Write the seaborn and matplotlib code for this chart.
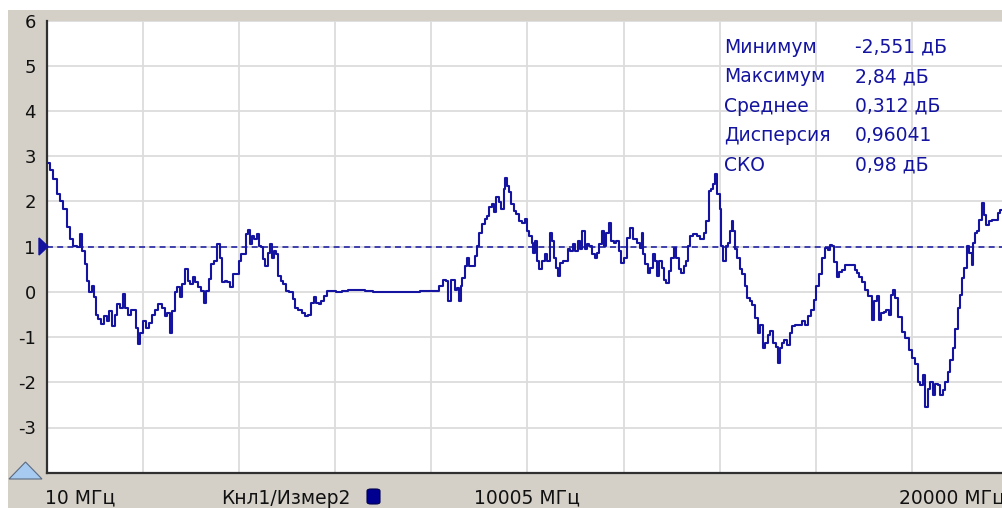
import matplotlib
matplotlib.use('Agg')
import matplotlib.pyplot as plt
import seaborn as sns
import pandas as pd
import numpy as np
from matplotlib.patches import Rectangle, Polygon, FancyBboxPatch

freq_mhz = [
    40, 110, 180, 245, 320, 385, 455, 525, 595, 665, 715, 765, 825, 870, 920, 965,
    1010, 1045, 1115, 1160, 1220, 1285, 1335, 1390, 1445, 1495, 1550, 1615, 1670,
    1725, 1775, 1840, 1890, 1930, 1980, 2050, 2100, 2155, 2225, 2295, 2360, 2430,
    2485, 2535, 2590, 2640, 2695, 2745, 2795, 2845, 2905, 2965, 3020, 3070, 3125,
    3180, 3240, 3300, 3355, 3400, 3460, 3520, 3575, 3630, 3680, 3735, 3795, 3855,
    3900, 3970, 4025,
    4060, 4130, 4185, 4215, 4255, 4305, 4350, 4395, 4440, 4490, 4530, 4580, 4630,
    4670, 4705, 4755, 4800, 4845, 4895, 4960, 5010, 5100, 5155, 5205, 5275, 5340,
    5415, 5480, 5530, 5585, 5640, 5690, 5735, 5795, 5860, 5965, 6070, 6210, 6350,
    6555, 6695, 6900, 7250, 7595, 7940,
    8115, 8220, 8290, 8335, 8380, 8430, 8475, 8520, 8565, 8600, 8635, 8670, 8725,
    8755, 8810, 8880, 8930, 8980, 9030, 9085, 9140, 9190, 9240, 9295, 9330, 9375,
    9435, 9490, 9535, 9560, 9605, 9640, 9695, 9745, 9795, 9850, 9920, 9970, 10020,
    10070, 10115, 10145, 10180, 10230, 10280, 10335, 10390, 10440, 10490, 10530,
    10575, 10625, 10665, 10715, 10765, 10820, 10875, 10925, 10970, 11030, 11075,
    11110, 11165, 11220, 11270, 11320, 11375, 11425, 11475, 11525, 11570, 11615,
    11665, 11720, 11775, 11825, 11875, 11930, 11985, 12035,
    12100, 12170, 12240, 12310, 12365, 12395, 12435, 12485, 12530, 12590, 12640,
    12690, 12725, 12775, 12815, 12865, 12915, 12970, 13015, 13075, 13120, 13175,
    13225, 13280, 13330, 13370, 13420, 13490, 13555, 13640, 13695, 13755, 13800,
    13850, 13890, 13940, 13975, 14025, 14055, 14100, 14150, 14195, 14235, 14265,
    14305, 14340, 14390, 14445, 14495, 14545, 14595, 14655, 14715, 14770, 14820,
    14875, 14930, 14980, 15030, 15085, 15140, 15190, 15235, 15275, 15325, 15375,
    15430, 15485, 15535, 15605, 15670, 15740, 15810, 15865, 15930, 15985, 16040,
    16090,
    16170, 16225, 16280, 16330, 16365, 16415, 16470, 16520, 16575, 16645, 16710,
    16780, 16835, 16885, 16935, 16990, 17060, 17130, 17195, 17245, 17290, 17335,
    17385, 17440, 17490, 17545, 17580, 17625, 17685, 17750, 17820, 17905, 17960,
    18030, 18100, 18155, 18205, 18250, 18305, 18355, 18410, 18460, 18515, 18570,
    18620, 18665, 18725, 18775, 18825, 18875, 18930, 18985, 19035, 19070, 19120,
    19170, 19220, 19265, 19290, 19335, 19380, 19430, 19470, 19520, 19565, 19625,
    19690, 19765, 19810, 19865,
]
level_db = [
    2.85, 2.69, 2.5, 2.17, 2.02, 1.84, 1.43, 1.17, 1.02, 0.99, 1.28, 0.91, 0.61,
    0.24, -0.01, 0.13, -0.12, -0.5, -0.61, -0.72, -0.53, -0.64, -0.42, -0.76, -0.5,
    -0.27, -0.35, -0.05, -0.35, -0.5, -0.39, -0.39, -0.79, -1.15, -0.9, -0.64,
    -0.79, -0.68, -0.5, -0.39, -0.27, -0.35, -0.53, -0.46, -0.9, -0.42, -0.01, 0.1,
    -0.12, 0.17, 0.5, 0.24, 0.17, 0.32, 0.21, 0.1, 0.02, -0.24, 0.02, 0.28, 0.61,
    0.69, 1.06, 0.76, 0.21, 0.24, 0.21, 0.1, 0.39, 0.39, 0.69,
    0.84, 0.84, 1.28, 1.36, 1.06, 1.24, 1.17, 1.28, 1.02, 0.99, 0.73, 0.58, 0.87,
    1.06, 0.76, 0.91, 0.84, 0.36, 0.24, 0.17, 0.02, -0.01, -0.16, -0.35, -0.39,
    -0.46, -0.53, -0.5, -0.24, -0.11, -0.24, -0.27, -0.2, -0.09, 0.02, 0.02, 0.0,
    0.02, 0.04, 0.04, 0.02, -0.01, -0.01, -0.01, 0.01,
    0.01, 0.13, 0.27, 0.24, -0.21, 0.27, 0.27, 0.05, 0.09, -0.21, 0.13, 0.31, 0.57,
    0.76, 0.57, 0.57, 0.79, 1.01, 1.31, 1.5, 1.61, 1.68, 1.87, 1.94, 1.76, 2.09,
    1.98, 1.83, 2.27, 2.53, 2.35, 2.2, 1.94, 1.79, 1.72, 1.57, 1.53, 1.61, 1.35,
    1.24, 1.09, 0.87, 1.13, 0.68, 0.5, 0.68, 0.83, 0.68, 1.31, 1.13, 0.76, 0.53,
    0.35, 0.64, 0.68, 0.68, 0.94, 0.9, 1.05, 0.9, 1.13, 0.94, 1.35, 0.94, 1.05,
    1.01, 0.83, 0.76, 0.87, 1.05, 1.35, 1.01, 1.31, 1.53, 1.13, 1.09, 1.13, 0.9,
    0.64, 0.76,
    1.2, 1.42, 1.16, 1.09, 0.98, 1.31, 0.83, 0.61, 0.42, 0.53, 0.83, 0.68, 0.35,
    0.68, 0.53, 0.27, 0.2, 0.46, 0.76, 0.98, 0.76, 0.5, 0.42, 0.57, 0.68, 1.01,
    1.24, 1.27, 1.24, 1.16, 1.31, 1.57, 2.24, 2.27, 2.39, 2.61, 2.16, 1.83, 1.01,
    0.68, 1.01, 1.09, 1.35, 1.57, 1.35, 0.94, 0.76, 0.5, 0.39, 0.13, -0.13, -0.21,
    -0.28, -0.58, -0.91, -0.73, -1.24, -1.13, -0.95, -0.87, -1.13, -1.21, -1.58,
    -1.24, -1.13, -1.06, -1.17, -0.91, -0.76, -0.73, -0.73, -0.65, -0.73, -0.54,
    -0.39, -0.17, 0.13, 0.39,
    0.75, 0.97, 0.93, 1.04, 1.01, 0.67, 0.34, 0.45, 0.49, 0.6, 0.6, 0.6, 0.49,
    0.41, 0.34, 0.23, 0.04, -0.1, -0.62, -0.21, -0.1, -0.62, -0.47, -0.44, -0.4,
    -0.51, -0.07, 0.04, -0.14, -0.55, -0.88, -1.03, -1.29, -1.47, -1.59, -1.99,
    -2.07, -1.84, -2.55, -2.14, -1.99, -2.29, -2.03, -2.07, -2.29, -2.18, -1.99,
    -1.77, -1.51, -1.25, -0.81, -0.36, -0.07, 0.3, 0.53, 1.01, 0.86, 0.6, 1.08,
    1.3, 1.34, 1.6, 1.97, 1.71, 1.49, 1.56, 1.6, 1.6, 1.75, 1.82,
]

ref_level = 1.0
y_ticks = [-3, -2, -1, 0, 1, 2, 3, 4, 5, 6]
f_start, f_stop = 10, 20000
x_labels = ['10 МГц', 'Кнл1/Измер2', '10005 МГц', '20000 МГц']

stat_names = ['Минимум', 'Максимум', 'Среднее', 'Дисперсия', 'СКО']
stat_values = ['-2,551 дБ', '2,84 дБ', '0,312 дБ', '0,96041', '0,98 дБ']

df = pd.DataFrame({'f': freq_mhz, 'db': level_db})

W, H = 1003, 508
BLUE = '#1414a0'
PANEL = '#d4d0c8'


def fx(x):
    return x / W


def fy(y):
    return 1 - y / H


sns.set_style('white')
plt.rcParams['font.family'] = ['DejaVu Sans']

fig = plt.figure(figsize=(W / 100, H / 100), dpi=100)
fig.patch.set_facecolor('white')
fig.patches.append(Rectangle((fx(8), 0), 1, fy(10), transform=fig.transFigure,
                             facecolor=PANEL, edgecolor='none', zorder=-5))

left, right, top, bottom = 46.9, 1008, 20.7, 472.7
ax = fig.add_axes([fx(left), fy(bottom), (right - left) / W, (bottom - top) / H])
ax.set_facecolor('white')

# stepped trace, like the analyser's pixel raster
sns.lineplot(data=df, x='f', y='db', ax=ax, color=BLUE, lw=1.5, sort=False,
             estimator=None, drawstyle='steps-mid', zorder=3)
ax.axhline(ref_level, color=BLUE, lw=1.1, ls=(0, (3.9, 2.8)), zorder=2)

ax.set_xlim(f_start, f_stop)
ax.set_ylim(-4, 6)
ax.set_xticks(np.linspace(f_start, f_stop, 11))
ax.set_xticklabels([])
ax.set_yticks(y_ticks)
ax.set_yticklabels([str(t) for t in y_ticks], fontsize=13, color='#111111')
ax.tick_params(axis='both', length=7, width=1, color='#a0a0a0', pad=1)
ax.grid(True, color='#dcdcdc', lw=1.3)
ax.set_xlabel('')
ax.set_ylabel('')
for s in ['top', 'right']:
    ax.spines[s].set_visible(False)
for s in ['left', 'bottom']:
    ax.spines[s].set_color('#303030')
    ax.spines[s].set_linewidth(1.6)

# reference level marker on the left edge
fig.patches.append(Polygon([(fx(39), fy(238)), (fx(39), fy(255)), (fx(48), fy(246.5))],
                           closed=True, transform=fig.transFigure,
                           facecolor=BLUE, edgecolor=BLUE, zorder=5))
# scale marker bottom-left
fig.patches.append(Polygon([(fx(9), fy(479)), (fx(42), fy(479)), (fx(25.5), fy(462))],
                           closed=True, transform=fig.transFigure,
                           facecolor='#a6caf0', edgecolor='#5a6a80', lw=0.8, zorder=5))

# bottom labels
ly = fy(498)
fig.text(fx(45), ly, x_labels[0], ha='left', va='center', fontsize=13.5, color='#111111')
fig.text(fx(286), ly, x_labels[1], ha='center', va='center', fontsize=13.5, color='#111111')
fig.text(fx(527), ly, x_labels[2], ha='center', va='center', fontsize=13.5, color='#111111')
fig.text(fx(899), ly, x_labels[3], ha='left', va='center', fontsize=13.5, color='#111111')
fig.patches.append(FancyBboxPatch((fx(367), fy(504)), fx(13), 15 / H,
                                  boxstyle='round,pad=0,rounding_size=0.004',
                                  transform=fig.transFigure, facecolor='#000090',
                                  edgecolor='#000050', lw=0.8, zorder=5))

# statistics block
for i, (name, val) in enumerate(zip(stat_names, stat_values)):
    yy = fy(47 + i * 29.6)
    fig.text(fx(724), yy, name, ha='left', va='center', fontsize=13.5, color=BLUE)
    fig.text(fx(855), yy, val, ha='left', va='center', fontsize=13.5, color=BLUE)

fig.savefig('out.png', dpi=100, facecolor=fig.get_facecolor())
